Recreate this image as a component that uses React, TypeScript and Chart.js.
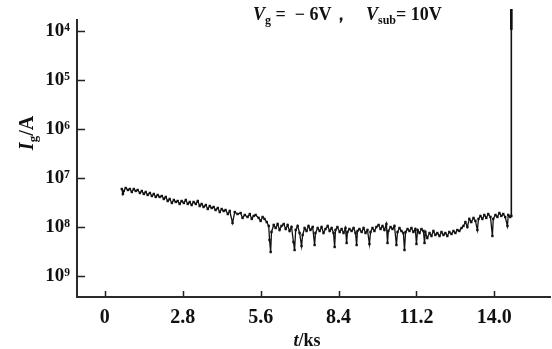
import React, { useEffect, useRef } from 'react';
import Chart from 'chart.js/auto';

// ---- data ----
const timeKs = [
  0.61, 0.65, 0.68, 0.75, 0.83, 0.90, 0.97, 1.04, 1.11, 1.18, 1.26, 1.33, 1.40, 1.47, 1.54, 1.62, 1.69, 1.76, 1.83, 1.90,
  1.97, 2.05, 2.12, 2.19, 2.26, 2.33, 2.41, 2.48, 2.55, 2.62, 2.69, 2.76, 2.84, 2.91, 2.98, 3.05, 3.12, 3.19, 3.27, 3.34,
  3.41, 3.48, 3.55, 3.63, 3.70, 3.77, 3.84, 3.91, 3.98, 4.06, 4.13, 4.20, 4.27, 4.34, 4.42, 4.49, 4.59, 4.67, 4.77, 4.88,
  4.95, 5.03, 5.13, 5.21, 5.28, 5.35, 5.42, 5.53, 5.60, 5.67, 5.74, 5.82, 5.89, 5.92, 5.96, 5.99, 6.07, 6.14, 6.21, 6.28,
  6.35, 6.43, 6.50, 6.57, 6.64, 6.71, 6.78, 6.82, 6.86, 6.93, 7.00, 7.07, 7.11, 7.18, 7.25, 7.32, 7.39, 7.47, 7.54, 7.57,
  7.65, 7.72, 7.79, 7.86, 7.93, 8.01, 8.08, 8.15, 8.22, 8.26, 8.29, 8.36, 8.44, 8.51, 8.58, 8.65, 8.69, 8.72, 8.79, 8.87,
  8.94, 9.01, 9.05, 9.08, 9.15, 9.23, 9.30, 9.37, 9.44, 9.51, 9.55, 9.62, 9.69, 9.76, 9.84, 9.91, 9.98, 10.05, 10.12, 10.16,
  10.19, 10.27, 10.34, 10.41, 10.48, 10.52, 10.59, 10.66, 10.73, 10.77, 10.81, 10.88, 10.95, 11.02, 11.09, 11.16, 11.20, 11.24, 11.31, 11.38,
  11.45, 11.49, 11.52, 11.59, 11.67, 11.74, 11.81, 11.88, 11.95, 12.03, 12.10, 12.17, 12.24, 12.31, 12.38, 12.46, 12.53, 12.60, 12.67, 12.74,
  12.82, 12.89, 12.96, 13.03, 13.10, 13.17, 13.25, 13.32, 13.39, 13.43, 13.50, 13.57, 13.64, 13.71, 13.78, 13.86, 13.93, 13.96, 14.04, 14.11,
  14.18, 14.25, 14.32, 14.39, 14.47, 14.50, 14.57, 14.61,
];
const currentA = [
  5.96e-8, 4.72e-8, 5.43e-8, 6.25e-8, 5.69e-8, 5.96e-8, 5.18e-8, 5.96e-8, 5.43e-8, 5.69e-8, 4.94e-8, 5.43e-8, 4.72e-8, 5.18e-8, 4.50e-8, 4.94e-8, 4.29e-8, 4.72e-8, 4.10e-8, 4.50e-8,
  4.10e-8, 4.29e-8, 3.73e-8, 4.10e-8, 3.39e-8, 3.73e-8, 3.09e-8, 3.56e-8, 3.24e-8, 3.39e-8, 2.95e-8, 3.39e-8, 3.09e-8, 3.56e-8, 2.95e-8, 3.24e-8, 2.81e-8, 3.24e-8, 2.95e-8, 3.39e-8,
  2.68e-8, 2.95e-8, 2.56e-8, 2.81e-8, 2.33e-8, 2.68e-8, 2.44e-8, 2.56e-8, 2.22e-8, 2.44e-8, 2.02e-8, 2.33e-8, 2.12e-8, 2.22e-8, 1.84e-8, 2.12e-8, 1.21e-8, 2.02e-8, 1.84e-8, 1.93e-8,
  1.53e-8, 1.76e-8, 1.60e-8, 1.84e-8, 1.46e-8, 1.68e-8, 1.76e-8, 1.53e-8, 1.33e-8, 1.60e-8, 1.46e-8, 1.26e-8, 1.05e-8, 5.43e-9, 3.09e-9, 7.91e-9, 1.10e-8, 9.54e-9, 1.15e-8, 8.69e-9,
  1.05e-8, 1.15e-8, 9.10e-9, 1.10e-8, 8.29e-9, 1.00e-8, 4.94e-9, 3.39e-9, 8.69e-9, 1.05e-8, 7.54e-9, 4.10e-9, 6.87e-9, 9.54e-9, 8.29e-9, 1.05e-8, 8.69e-9, 1.00e-8, 4.29e-9, 7.54e-9,
  9.54e-9, 8.29e-9, 1.00e-8, 7.54e-9, 9.10e-9, 1.05e-8, 8.29e-9, 9.54e-9, 7.54e-9, 3.91e-9, 8.69e-9, 1.00e-8, 7.91e-9, 9.10e-9, 7.54e-9, 9.54e-9, 4.72e-9, 7.91e-9, 9.10e-9, 8.29e-9,
  9.54e-9, 7.54e-9, 4.29e-9, 8.29e-9, 9.10e-9, 7.91e-9, 9.54e-9, 7.54e-9, 8.69e-9, 4.50e-9, 7.91e-9, 9.54e-9, 8.29e-9, 1.00e-8, 1.10e-8, 9.10e-9, 1.05e-8, 8.69e-9, 1.15e-8, 4.72e-9,
  8.29e-9, 1.00e-8, 9.10e-9, 1.05e-8, 4.29e-9, 7.91e-9, 9.54e-9, 8.29e-9, 7.54e-9, 3.39e-9, 7.91e-9, 9.10e-9, 8.29e-9, 9.54e-9, 7.91e-9, 9.10e-9, 4.50e-9, 8.69e-9, 7.54e-9, 9.10e-9,
  8.29e-9, 4.72e-9, 7.91e-9, 5.96e-9, 7.54e-9, 6.55e-9, 8.29e-9, 6.87e-9, 7.54e-9, 6.55e-9, 7.91e-9, 6.87e-9, 7.54e-9, 6.55e-9, 7.91e-9, 7.20e-9, 8.29e-9, 7.54e-9, 8.69e-9, 8.29e-9,
  9.54e-9, 1.05e-8, 1.26e-8, 1.00e-8, 1.46e-8, 1.26e-8, 1.53e-8, 1.33e-8, 8.69e-9, 1.46e-8, 1.68e-8, 1.46e-8, 1.76e-8, 1.53e-8, 1.84e-8, 1.60e-8, 6.55e-9, 1.46e-8, 1.76e-8, 1.60e-8,
  1.93e-8, 1.68e-8, 1.84e-8, 1.60e-8, 1.05e-8, 1.76e-8, 1.60e-8, 1.68e-8,
];
const spikeTimeKs = [14.61, 14.61];
const spikeCurrentA = [1.68e-8, 2.8e-4];
const spikeHeadTimeKs = [14.61, 14.61];
const spikeHeadCurrentA = [1.05e-4, 2.8e-4];

const xTickValues = [0, 2.8, 5.6, 8.4, 11.2, 14.0];
const xTickLabels = ['0', '2.8', '5.6', '8.4', '11.2', '14.0'];
const yTickValues = [1e-4, 1e-5, 1e-6, 1e-7, 1e-8, 1e-9];
const yTickLabels = ['10⁴', '10⁵', '10⁶', '10⁷', '10⁸', '10⁹'];
const xMin = -1.0;
const xMax = 16.0;
const yMin = 3.73e-10;
const yMax = 1.67e-4;

const SERIF = "'Liberation Serif', 'DejaVu Serif', serif";
const INK = '#111111';

type Run = { text: string; font: string; dy?: number };

function runsWidth(ctx: CanvasRenderingContext2D, runs: Run[]) {
  let w = 0;
  for (const r of runs) {
    ctx.font = r.font;
    w += ctx.measureText(r.text).width;
  }
  return w;
}
function drawRuns(ctx: CanvasRenderingContext2D, x: number, y: number, runs: Run[]) {
  let cx = x;
  for (const r of runs) {
    ctx.font = r.font;
    ctx.fillText(r.text, cx, y + (r.dy || 0));
    cx += ctx.measureText(r.text).width;
  }
}

const decorPlugin = {
  id: 'decor',
  afterDraw(chart: any) {
    const ctx: CanvasRenderingContext2D = chart.ctx;
    const xs = chart.scales.x;
    const ys = chart.scales.y;
    const { left, bottom } = chart.chartArea;
    ctx.save();
    // inward tick marks
    ctx.strokeStyle = '#222';
    ctx.lineWidth = 1.5;
    ctx.beginPath();
    for (const v of xTickValues) {
      const px = Math.round(xs.getPixelForValue(v)) + 0.5;
      ctx.moveTo(px, bottom);
      ctx.lineTo(px, bottom - 6);
    }
    for (const v of yTickValues) {
      const py = Math.round(ys.getPixelForValue(v)) + 0.5;
      ctx.moveTo(left, py);
      ctx.lineTo(left + 8, py);
    }
    ctx.stroke();

    ctx.fillStyle = INK;
    ctx.textBaseline = 'alphabetic';
    ctx.textAlign = 'left';
    const big = `bold 18px ${SERIF}`;
    const bigIt = `italic bold 18px ${SERIF}`;
    const sub = `bold 12px ${SERIF}`;
    // annotation
    drawRuns(ctx, 253, 20, [
      { text: 'V', font: bigIt },
      { text: 'g', font: sub, dy: 4 },
      { text: ' =  − 6V，', font: big },
    ]);
    drawRuns(ctx, 366, 20, [
      { text: 'V', font: bigIt },
      { text: 'sub', font: sub, dy: 4 },
      { text: '= 10V', font: big },
    ]);

    // y title
    const yRuns: Run[] = [
      { text: 'I', font: `italic bold 20px ${SERIF}` },
      { text: 'g', font: `bold 13px ${SERIF}`, dy: 4 },
      { text: '/A', font: `bold 20px ${SERIF}` },
    ];
    ctx.save();
    ctx.translate(33, 133);
    ctx.rotate(-Math.PI / 2);
    drawRuns(ctx, -runsWidth(ctx, yRuns) / 2, 0, yRuns);
    ctx.restore();

    // x title
    const xRuns: Run[] = [
      { text: 't', font: `italic bold 18px ${SERIF}` },
      { text: '/ks', font: `bold 18px ${SERIF}` },
    ];
    drawRuns(ctx, 307 - runsWidth(ctx, xRuns) / 2, 346, xRuns);
    ctx.restore();
  },
};

export default function App() {
  const ref = useRef<HTMLCanvasElement | null>(null);
  useEffect(() => {
    if (!ref.current) return;
    const chart = new Chart(ref.current, {
      type: 'scatter',
      data: {
        datasets: [
          {
            data: timeKs.map((t, i) => ({ x: t, y: currentA[i] })),
            showLine: true,
            borderColor: INK,
            borderWidth: 1.3,
            pointRadius: 1.7,
            pointStyle: 'rect',
            pointBackgroundColor: INK,
            pointBorderWidth: 0,
            pointHoverRadius: 0,
          },
          {
            data: spikeTimeKs.map((t, i) => ({ x: t, y: spikeCurrentA[i] })),
            showLine: true,
            borderColor: INK,
            borderWidth: 1.6,
            pointRadius: 0,
            clip: false,
          },
          {
            data: spikeHeadTimeKs.map((t, i) => ({ x: t, y: spikeHeadCurrentA[i] })),
            showLine: true,
            borderColor: INK,
            borderWidth: 2.6,
            pointRadius: 0,
            clip: false,
          },
        ],
      } as any,
      options: {
        animation: false,
        responsive: true,
        maintainAspectRatio: false,
        events: [],
        layout: { padding: { top: 20, right: 2, left: 0, bottom: 0 } },
        plugins: { legend: { display: false }, tooltip: { enabled: false } },
        scales: {
          x: {
            type: 'linear',
            min: xMin,
            max: xMax,
            afterBuildTicks: (s: any) => {
              s.ticks = xTickValues.map((v) => ({ value: v }));
            },
            afterFit: (s: any) => {
              s.height = 52;
            },
            grid: { display: true, drawOnChartArea: false, drawTicks: false },
            border: { display: true, color: '#2a2a2a', width: 2 },
            ticks: {
              autoSkip: false,
              maxRotation: 0,
              padding: 9,
              color: INK,
              font: { family: SERIF, size: 20, weight: 'bold' },
              callback: (_v: any, i: number) => xTickLabels[i],
            },
          },
          y: {
            type: 'logarithmic',
            min: yMin,
            max: yMax,
            afterBuildTicks: (s: any) => {
              s.ticks = yTickValues.map((v) => ({ value: v }));
            },
            afterFit: (s: any) => {
              s.width = 77;
            },
            grid: { display: true, drawOnChartArea: false, drawTicks: false },
            border: { display: true, color: '#2a2a2a', width: 2 },
            ticks: {
              autoSkip: false,
              padding: 7,
              color: INK,
              font: { family: SERIF, size: 19, weight: 'bold' },
              callback: (_v: any, i: number) => yTickLabels[i],
            },
          },
        },
      } as any,
      plugins: [decorPlugin],
    });
    return () => chart.destroy();
  }, []);
  return (
    <div style={{ position: 'fixed', left: 0, top: 0, width: 552, height: 349, background: '#fff' }}>
      <canvas ref={ref} />
    </div>
  );
}
